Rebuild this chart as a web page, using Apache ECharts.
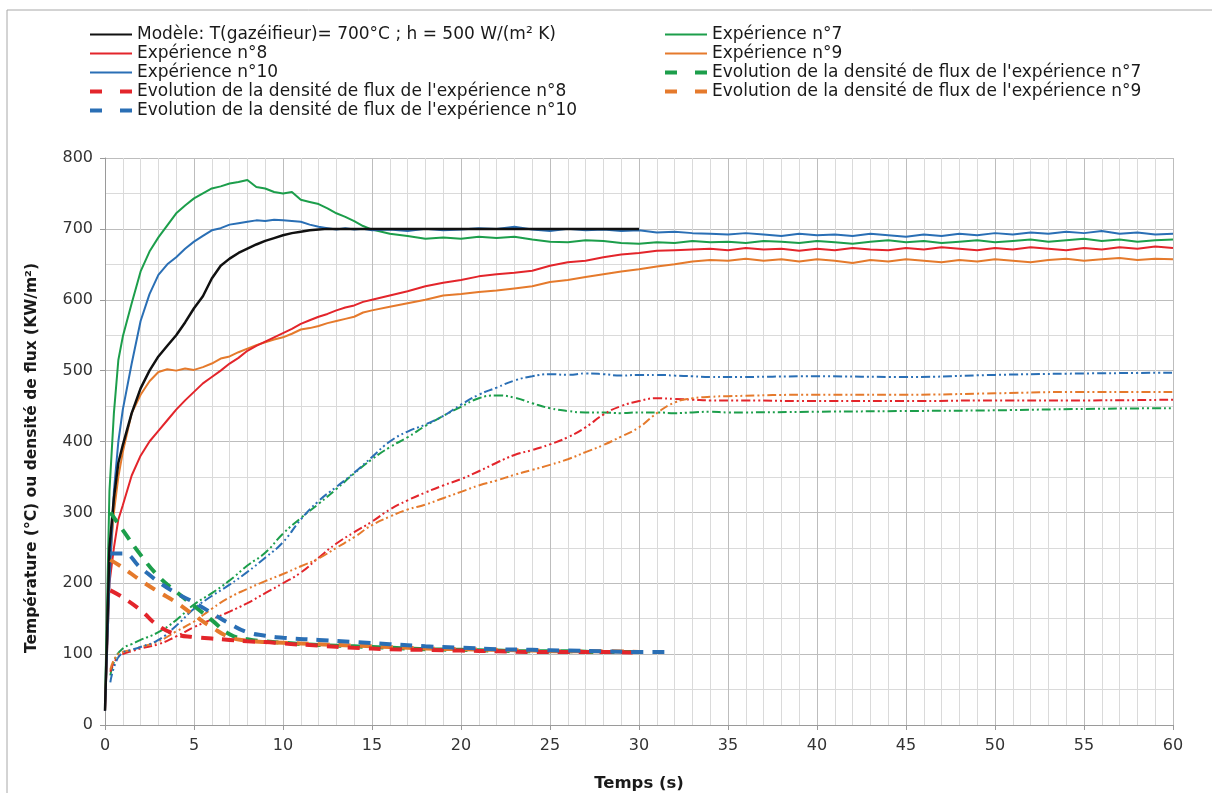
<!DOCTYPE html>
<html><head><meta charset="utf-8">
<script src="https://cdn.jsdelivr.net/npm/echarts@6/dist/echarts.min.js"></script>
<style>html,body{margin:0;padding:0;background:#fff}#c{width:1212px;height:793px}</style>
</head><body><div id="c"></div>
<script>
// ---- time bases (s) ----
const tTemp = [0,0.25,0.5,0.75,1,1.5,2,2.5,3,3.5,4,4.5,5,5.5,6,6.5,7,7.5,8,8.5,9,9.5,10,10.5,11,11.5,12,12.5,13,13.5,14,14.5,15,
  16,17,18,19,20,21,22,23,24,25,26,27,28,29,30,31,32,33,34,35,36,37,38,39,40,41,42,43,44,45,46,47,48,49,50,51,52,53,54,55,56,57,58,59,60];
// ---- temperatures (°C) ----
const modele = [20,250,320,370,395,440,475,500,520,535,550,568,588,605,630,648,658,666,672,678,683,687,691,694,696,698,699,700,700,700,700,700,700,
  700,700,700,700,700,700,700,700,700,700,700,700,700,700,700];
const exp7 = [30,330,440,515,548,595,640,668,688,705,722,733,743,750,757,760,764,766,769,759,757,752,750,752,741,738,735,729,722,717,711,704,699,
  693,690,686,688,686,689,687,689,685,682,681,684,683,680,679,681,680,683,681,682,680,683,682,680,683,681,679,682,684,681,683,680,682,684,681,683,685,682,684,686,683,685,682,684,685];
const exp8 = [20,200,250,290,310,352,380,400,415,430,445,458,470,482,491,500,510,518,528,535,541,547,553,559,566,571,576,580,585,589,592,597,600,
  606,612,619,624,628,633,636,638,641,648,653,655,660,664,666,669,670,671,672,670,673,671,672,669,672,670,673,671,670,673,671,674,672,670,673,671,674,672,670,673,671,674,672,675,673];
const exp9 = [20,220,300,350,385,440,466,485,498,502,500,503,501,505,510,517,520,526,531,536,540,544,547,552,558,560,563,567,570,573,576,582,585,
  590,595,600,606,608,611,613,616,619,625,628,632,636,640,643,647,650,654,656,655,658,655,657,654,657,655,652,656,654,657,655,653,656,654,657,655,653,656,658,655,657,659,656,658,657];
const exp10 = [20,200,330,400,445,510,570,608,635,650,660,672,682,690,698,701,706,708,710,712,711,713,712,711,710,706,703,701,699,701,699,700,698,
  699,697,700,698,699,701,700,703,699,697,700,698,699,697,698,695,696,694,693,692,694,692,690,693,691,692,690,693,691,689,692,690,693,691,694,692,695,693,696,694,697,693,695,692,693];
// ---- heat flux density (kW/m²) ----
const tFlux = [0.3,1,2,3,4,5,6,7,8,9,10,12,14,16,18,20,22,24,26,28,30,31.5];
const flux7  = [300,275,240,210,188,168,148,128,121,118,116,113,111,109,107,106,105,104,104,103,103,null];
const flux8  = [190,180,162,140,128,124,122,120,118,117,115,112,109,107,106,105,104,103,103,103,102,null];
const flux9  = [233,222,204,188,173,155,138,124,119,117,116,114,112,110,108,107,106,105,104,104,103,null];
const flux10 = [242,242,222,202,186,173,158,143,131,126,123,120,117,114,111,109,107,106,105,104,103,103];
// ---- dash-dot curves ----
const tDD = [0.3,0.6,1,1.5,2,3,4,5,6,7,8,9,10,11,12,13,14,15,16,17,18,19,20,21,22,23,24,25,26,27,28,29,30,31,32,33,34,35,40,45,50,55,60];
const dd7  = [70,95,108,114,120,131,148,170,186,204,225,243,270,292,312,333,355,375,392,406,422,436,449,461,465,462,454,447,443,441,441,440,441,441,440,441,442,441,442,443,444,446,447];
const dd8  = [75,92,100,104,108,114,125,138,149,160,172,186,200,215,236,256,272,287,304,317,328,338,347,358,370,381,388,396,406,420,438,450,457,461,460,459,458,458,457,457,458,458,459];
const dd9  = [78,96,103,106,110,118,132,146,164,180,192,203,213,224,235,250,265,282,294,304,311,320,329,338,345,353,360,367,375,385,395,407,420,440,455,461,463,464,466,466,468,470,470];
const dd10 = [60,88,102,106,110,120,140,164,182,198,216,236,258,290,316,336,356,378,400,414,424,436,452,466,476,486,492,495,494,496,495,493,494,494,493,492,491,491,492,491,494,496,497];
// ---- labels ----
const names = {
  modele: "Modèle: T(gazéifieur)= 700°C ; h = 500 W/(m² K)",
  e7: "Expérience n°7", e8: "Expérience n°8", e9: "Expérience n°9", e10: "Expérience n°10",
  f7: "Evolution de la densité de flux de l'expérience n°7",
  f8: "Evolution de la densité de flux de l'expérience n°8",
  f9: "Evolution de la densité de flux de l'expérience n°9",
  f10: "Evolution de la densité de flux de l'expérience n°10"
};
const xTitle = "Temps (s)";
const yTitle = "Température (°C) ou densité de flux (KW/m²)";

const C = {black:'#111111', green:'#1C9E4B', red:'#E3252B', orange:'#E57A2C', blue:'#2A6FB5'};
const pairs = (ts, vs) => ts.map((t,i)=>[t, vs[i]]).filter(p=>p[1]!=null && p[1]!==undefined);

function solid(name, ts, vs, color, w){
  return {name, type:'line', data:pairs(ts,vs), symbol:'none', smooth:false, z:3,
    lineStyle:{color, width:w}, itemStyle:{color}};
}
function dashed(name, ts, vs, color){
  return {name, type:'line', data:pairs(ts,vs), symbol:'none', smooth:true, z:4,
    lineStyle:{color, width:4, type:[12,9]}, itemStyle:{color}};
}
function dashdot(ts, vs, color){
  return {type:'line', data:pairs(ts,vs), symbol:'none', smooth:true, z:2,
    lineStyle:{color, width:2, type:[9,3,2,3,2,3]}, itemStyle:{color}};
}
const legDash = n => ({name:n, lineStyle:{width:4, type:[12,18]}});

const font = 'DejaVu Sans';
const chart = echarts.init(document.getElementById('c'), null, {renderer:'canvas'});
const legText = {fontFamily:font, fontSize:17, color:'#1a1a1a'};
const legCommon = {orient:'vertical', top:21, itemWidth:42, itemHeight:12, itemGap:2, textStyle:legText,
  itemStyle:{opacity:0}, padding:[5,0,5,0]};
chart.setOption({
  animation:false,
  backgroundColor:'#fff',
  graphic:[
    {type:'rect', shape:{x:7,y:10,width:1230,height:800}, style:{fill:'none', stroke:'#a8a8a8', lineWidth:1}, z:-1},
    {type:'text', x:32, y:458, rotation:Math.PI/2, style:{text:yTitle, font:'bold 15.5px "DejaVu Sans"', fill:'#1a1a1a', textAlign:'center', textVerticalAlign:'middle'}}
  ],
  legend:[
    Object.assign({left:88, data:[names.modele, names.e8, names.e10, legDash(names.f8), legDash(names.f10)]}, legCommon),
    Object.assign({left:663, data:[names.e7, names.e9, legDash(names.f7), legDash(names.f9)]}, legCommon)
  ],
  grid:{left:105, right:39, top:158, bottom:68, containLabel:false, outerBoundsMode:'none'},
  xAxis:{type:'value', min:0, max:60, interval:5,
    name:xTitle, nameLocation:'middle', nameGap:50,
    nameTextStyle:{fontFamily:font, fontSize:16.5, fontWeight:'bold', color:'#1a1a1a'},
    axisLine:{show:true, lineStyle:{color:'#9a9a9a'}},
    axisTick:{show:true, length:5, lineStyle:{color:'#9a9a9a'}},
    minorTick:{show:false, splitNumber:5},
    minorSplitLine:{show:true, lineStyle:{color:'#dadada'}},
    splitLine:{show:true, lineStyle:{color:'#bdbdbd'}},
    axisLabel:{fontFamily:font, fontSize:16, color:'#333', margin:13}},
  yAxis:{type:'value', min:0, max:800, interval:100,
    axisLine:{show:true, lineStyle:{color:'#9a9a9a'}},
    axisTick:{show:true, length:5, lineStyle:{color:'#9a9a9a'}},
    minorTick:{show:false, splitNumber:2},
    minorSplitLine:{show:true, lineStyle:{color:'#dadada'}},
    splitLine:{show:true, lineStyle:{color:'#bdbdbd'}},
    axisLabel:{fontFamily:font, fontSize:16, color:'#333', margin:12}},
  series:[
    dashdot(tDD, dd7, C.green), dashdot(tDD, dd8, C.red), dashdot(tDD, dd9, C.orange), dashdot(tDD, dd10, C.blue),
    solid(names.e7, tTemp, exp7, C.green, 2),
    solid(names.e9, tTemp, exp9, C.orange, 2),
    solid(names.e8, tTemp, exp8, C.red, 2),
    solid(names.e10, tTemp, exp10, C.blue, 2),
    solid(names.modele, tTemp, modele, C.black, 2.5),
    dashed(names.f7, tFlux, flux7, C.green),
    dashed(names.f9, tFlux, flux9, C.orange),
    dashed(names.f8, tFlux, flux8, C.red),
    dashed(names.f10, tFlux, flux10, C.blue)
  ]
});
</script></body></html>
